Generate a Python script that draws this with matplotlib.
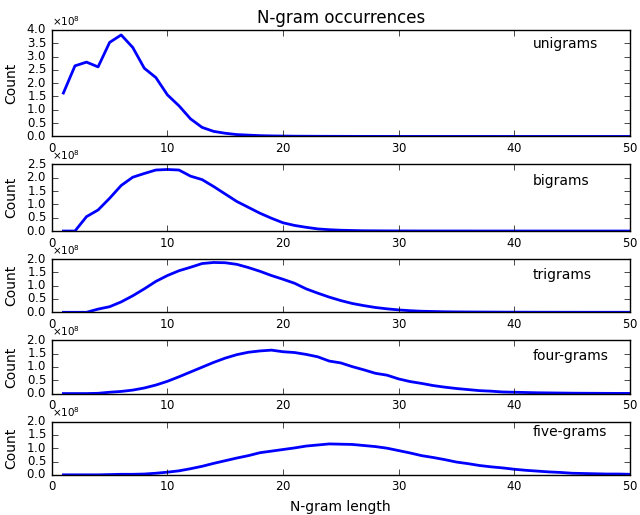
import numpy as np
import matplotlib
matplotlib.use("Agg")
import matplotlib.pyplot as plt

plt.style.use('classic')
plt.rcParams['axes.formatter.use_mathtext'] = True
plt.rcParams['mathtext.fontset'] = 'dejavusans'
plt.rcParams['font.family'] = ['DejaVu Sans']

# N-gram length
lengths = list(range(1, 51))

# counts in units of 1e8
unigrams = [1.63, 2.65, 2.79, 2.61, 3.53, 3.81, 3.34, 2.56, 2.21, 1.56,
            1.15, 0.66, 0.34, 0.19, 0.12, 0.07, 0.05, 0.03, 0.02, 0.015,
            0.01, 0.008, 0.006, 0.005, 0.004, 0.003, 0.002, 0.002, 0.001, 0.001,
            0.001, 0.001, 0.0005, 0.0005, 0.0005, 0.0003, 0.0003, 0.0002, 0.0002, 0.0001,
            0.0001, 0.0001, 0.0001, 0.0001, 0.0, 0.0, 0.0, 0.0, 0.0, 0.0]
bigrams = [0.0, 0.0, 0.54, 0.79, 1.23, 1.71, 2.02, 2.16, 2.29, 2.31,
           2.29, 2.06, 1.93, 1.67, 1.39, 1.11, 0.89, 0.67, 0.48, 0.31,
           0.21, 0.14, 0.08, 0.05, 0.03, 0.02, 0.01, 0.008, 0.005, 0.004,
           0.003, 0.002, 0.002, 0.001, 0.001, 0.001, 0.0005, 0.0005, 0.0005, 0.0003,
           0.0003, 0.0002, 0.0002, 0.0001, 0.0001, 0.0001, 0.0, 0.0, 0.0, 0.0]
trigrams = [0.0, 0.0, 0.0, 0.12, 0.21, 0.39, 0.62, 0.88, 1.16, 1.38,
            1.56, 1.69, 1.83, 1.87, 1.86, 1.80, 1.68, 1.54, 1.38, 1.24,
            1.09, 0.88, 0.72, 0.57, 0.44, 0.33, 0.25, 0.18, 0.13, 0.09,
            0.06, 0.04, 0.03, 0.02, 0.015, 0.012, 0.01, 0.008, 0.006, 0.005,
            0.004, 0.003, 0.003, 0.002, 0.002, 0.001, 0.001, 0.001, 0.001, 0.0005]
fourgrams = [0.0, 0.0, 0.0, 0.01, 0.05, 0.08, 0.13, 0.21, 0.32, 0.46,
             0.63, 0.81, 0.99, 1.17, 1.33, 1.46, 1.55, 1.60, 1.63, 1.57,
             1.54, 1.47, 1.38, 1.22, 1.15, 1.01, 0.89, 0.76, 0.69, 0.55,
             0.45, 0.38, 0.30, 0.24, 0.19, 0.15, 0.11, 0.09, 0.06, 0.05,
             0.04, 0.03, 0.025, 0.02, 0.015, 0.012, 0.01, 0.008, 0.006, 0.005]
fivegrams = [0.0, 0.0, 0.0, 0.0, 0.01, 0.02, 0.02, 0.03, 0.06, 0.10,
             0.15, 0.23, 0.32, 0.43, 0.53, 0.63, 0.72, 0.83, 0.89, 0.95,
             1.01, 1.08, 1.12, 1.16, 1.15, 1.14, 1.10, 1.06, 1.00, 0.91,
             0.82, 0.72, 0.65, 0.57, 0.48, 0.42, 0.35, 0.30, 0.26, 0.21,
             0.17, 0.14, 0.11, 0.09, 0.06, 0.05, 0.04, 0.03, 0.03, 0.02]

names = ['unigrams', 'bigrams', 'trigrams', 'four-grams', 'five-grams']
series = [unigrams, bigrams, trigrams, fourgrams, fivegrams]
ymax = [4.0, 2.5, 2.0, 2.0, 2.0]
label_y = [0.87, 0.75, 0.70, 0.70, 0.81]

fig, axes = plt.subplots(5, 1, figsize=(6.4, 5.15), dpi=100,
                         gridspec_kw={'height_ratios': ymax})
fig.patch.set_facecolor('white')
fig.subplots_adjust(left=0.081, right=0.984, top=0.942, bottom=0.078, hspace=0.42)

for ax, name, vals, top, ly in zip(axes, names, series, ymax, label_y):
    ax.plot(lengths, np.array(vals) * 1e8, color='b', linewidth=2)
    ax.set_xlim(0, 50)
    ax.set_ylim(0, top * 1e8)
    ax.set_yticks(np.arange(0, top + 0.01, 0.5) * 1e8)
    ax.set_xticks([0, 10, 20, 30, 40, 50])
    ax.tick_params(labelsize=8.5)
    ax.yaxis.get_offset_text().set_fontsize(7.5)
    ax.set_ylabel('Count', fontsize=10, labelpad=6)
    ax.text(0.832, ly, name, transform=ax.transAxes, fontsize=10,
            ha='left', va='center')

axes[0].set_title('N-gram occurrences', fontsize=12)
axes[-1].set_xlabel('N-gram length', fontsize=10)

fig.savefig('out.png', dpi=100, facecolor='white')
